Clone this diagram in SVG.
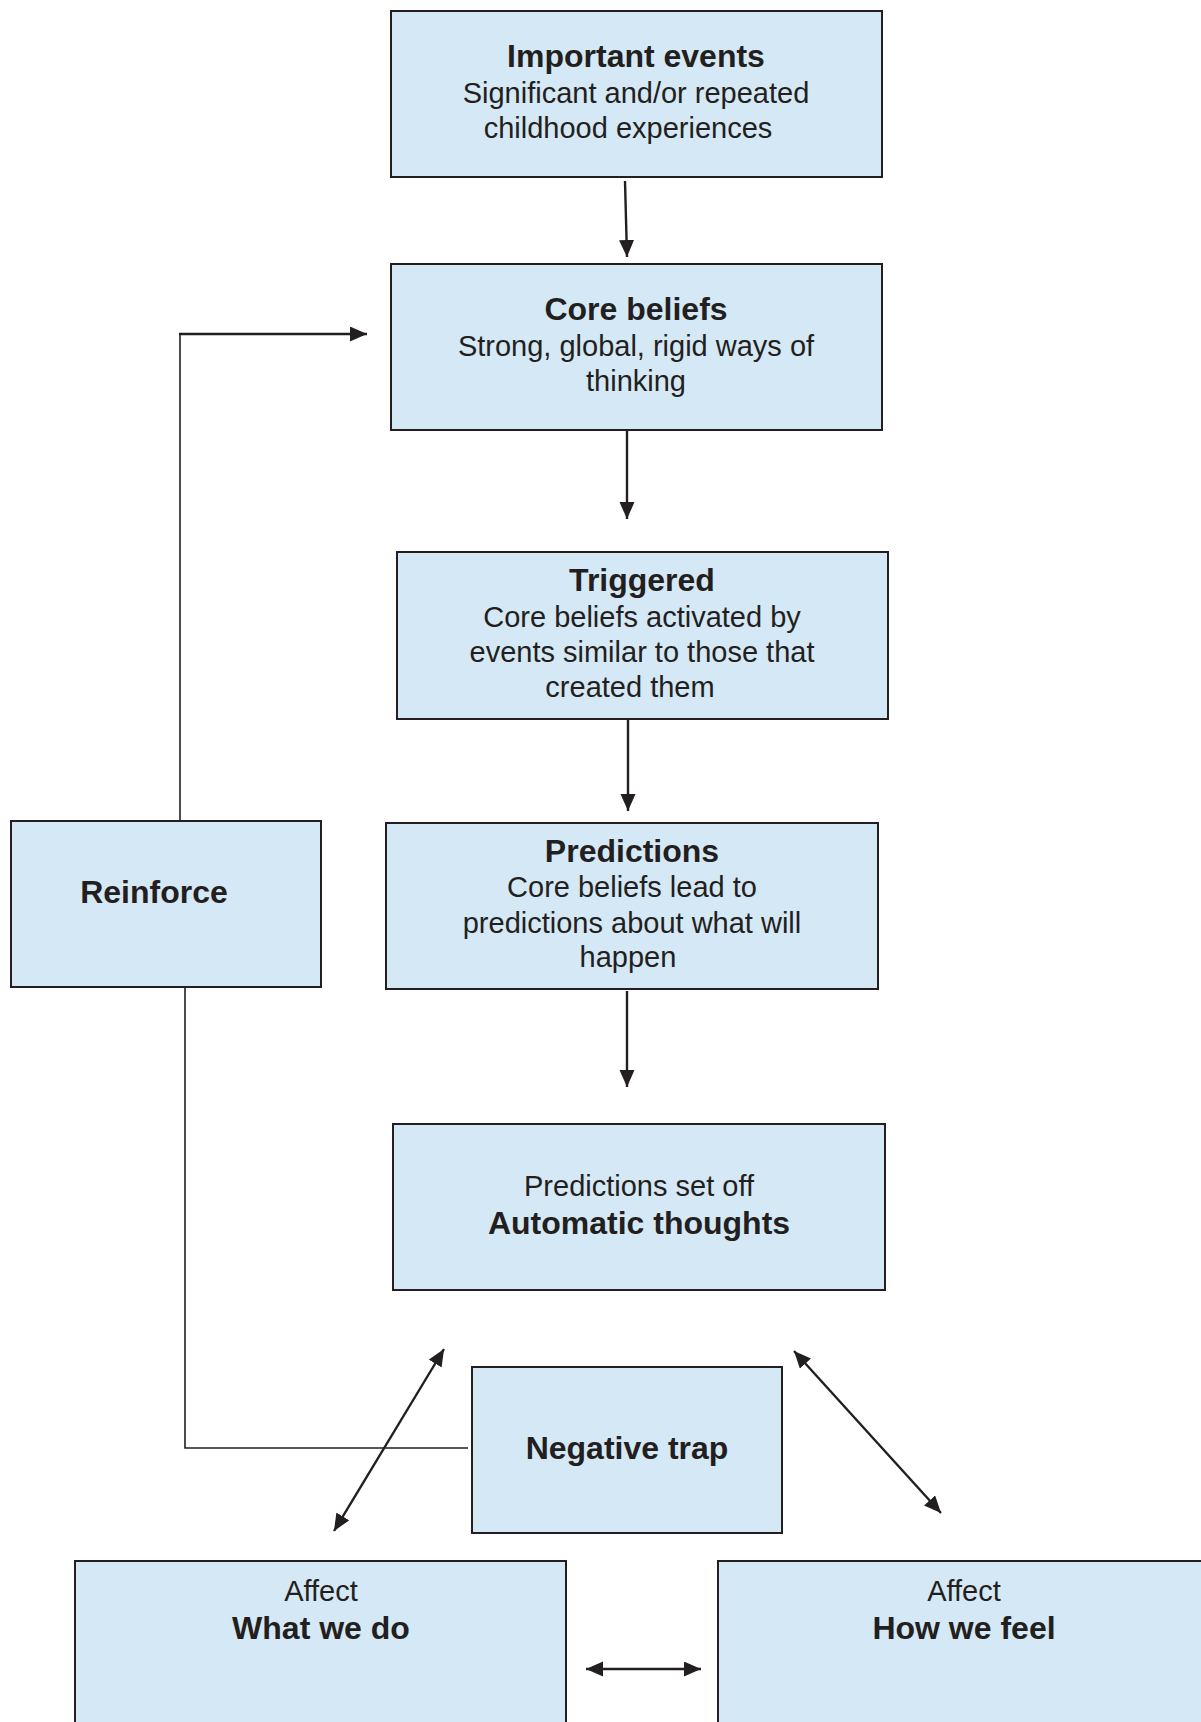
<svg xmlns="http://www.w3.org/2000/svg" width="1201" height="1722" viewBox="0 0 1201 1722">
<style>
.box{fill:#d5e8f5;stroke:#231f20;stroke-width:2}
text{font-family:"Liberation Sans",Arial,Helvetica,sans-serif;fill:#231f20;text-anchor:middle}
.b{font-weight:bold;font-size:32px}
.r{font-size:29px}
.arr{fill:none;stroke:#231f20;stroke-width:2.4}
.thin{fill:none;stroke:#231f20;stroke-width:1.6}
</style>
<defs>
<marker id="ah" markerUnits="userSpaceOnUse" markerWidth="18" markerHeight="16" refX="17" refY="7.5" orient="auto-start-reverse" viewBox="0 0 18 16">
<path d="M0,0 L17,7.5 L0,15 z" fill="#231f20"/>
</marker>
</defs>
<rect width="1201" height="1722" fill="#ffffff"/>
<g id="connectors">
<line class="arr" x1="625" y1="181" x2="627" y2="257" marker-end="url(#ah)"/>
<line class="arr" x1="627" y1="430" x2="627" y2="519" marker-end="url(#ah)"/>
<line class="arr" x1="628" y1="719" x2="628" y2="811" marker-end="url(#ah)"/>
<line class="arr" x1="627" y1="991" x2="627" y2="1087" marker-end="url(#ah)"/>
<polyline class="thin" points="180,821 180,334"/>
<polyline class="arr" points="179,334 367,334" marker-end="url(#ah)"/>
<polyline class="thin" points="185,988 185,1448 468,1448"/>
<line class="arr" x1="334" y1="1531" x2="444" y2="1349" marker-start="url(#ah)" marker-end="url(#ah)"/>
<line class="arr" x1="794" y1="1351" x2="941" y2="1513" marker-start="url(#ah)" marker-end="url(#ah)"/>
<line class="arr" x1="586" y1="1669" x2="701" y2="1669" stroke-width="3" marker-start="url(#ah)" marker-end="url(#ah)"/>
</g>
<g id="important-events">
<rect class="box" x="391" y="11" width="491" height="166"/>
<text class="b" x="636" y="67">Important events</text>
<text class="r" x="636" y="103">Significant and/or repeated</text>
<text class="r" x="628" y="138">childhood experiences</text>
</g>
<g id="core-beliefs">
<rect class="box" x="391" y="264" width="491" height="166"/>
<text class="b" x="636" y="320">Core beliefs</text>
<text class="r" x="636" y="356">Strong, global, rigid ways of</text>
<text class="r" x="636" y="391">thinking</text>
</g>
<g id="triggered">
<rect class="box" x="397" y="552" width="491" height="167"/>
<text class="b" x="642" y="591">Triggered</text>
<text class="r" x="642" y="627">Core beliefs activated by</text>
<text class="r" x="642" y="662">events similar to those that</text>
<text class="r" x="630" y="697">created them</text>
</g>
<g id="reinforce">
<rect class="box" x="11" y="821" width="310" height="166"/>
<text class="b" x="154" y="903">Reinforce</text>
</g>
<g id="predictions">
<rect class="box" x="386" y="823" width="492" height="166"/>
<text class="b" x="632" y="862">Predictions</text>
<text class="r" x="632" y="897">Core beliefs lead to</text>
<text class="r" x="632" y="933">predictions about what will</text>
<text class="r" x="628" y="967">happen</text>
</g>
<g id="automatic-thoughts">
<rect class="box" x="393" y="1124" width="492" height="166"/>
<text class="r" x="639" y="1196">Predictions set off</text>
<text class="b" x="639" y="1234">Automatic thoughts</text>
</g>
<g id="negative-trap">
<rect class="box" x="472" y="1367" width="310" height="166"/>
<text class="b" x="627" y="1459">Negative trap</text>
</g>
<g id="what-we-do">
<rect class="box" x="75" y="1561" width="491" height="180"/>
<text class="r" x="321" y="1601">Affect</text>
<text class="b" x="321" y="1639">What we do</text>
</g>
<g id="how-we-feel">
<rect class="box" x="718" y="1561" width="500" height="180"/>
<text class="r" x="964" y="1601">Affect</text>
<text class="b" x="964" y="1639">How we feel</text>
</g>
</svg>
